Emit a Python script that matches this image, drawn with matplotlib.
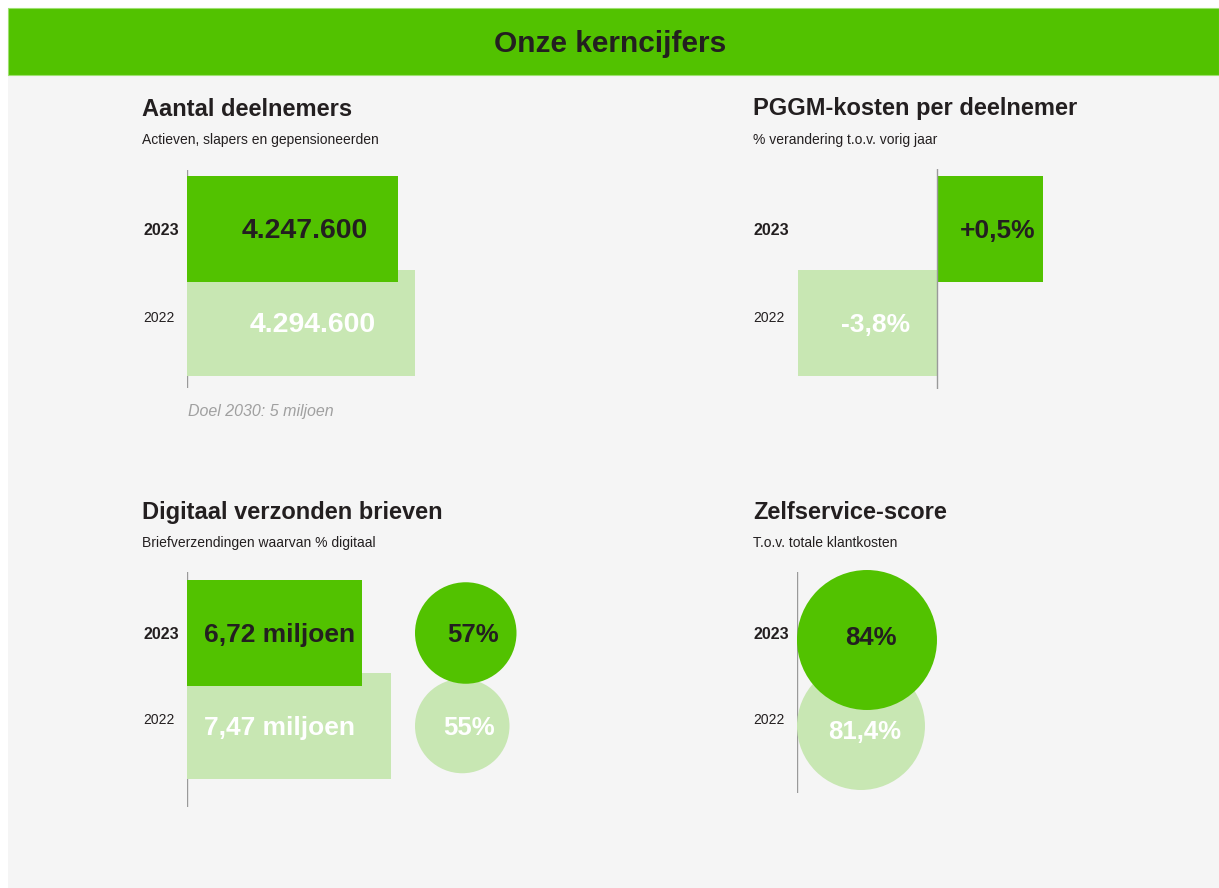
import matplotlib.pyplot as plt
from matplotlib.patches import Rectangle, Circle

W, H = 1219, 888

# data (index 0 = 2022, index 1 = 2023)
jaren = ['2022', '2023']
deelnemers = [4294600, 4247600]
deelnemers_labels = ['4.294.600', '4.247.600']
kosten = [-3.8, 0.5]
kosten_labels = ['-3,8%', '+0,5%']
brieven = [7.47, 6.72]  # miljoen
brieven_labels = ['7,47 miljoen', '6,72 miljoen']
digitaal = [55, 57]
digitaal_labels = ['55%', '57%']
zelfservice = [81.4, 84]
zelfservice_labels = ['81,4%', '84%']

GREEN = '#52c200'
LIGHT = '#c8e7b3'
DARK = '#231f20'
BG = '#f5f5f5'
AXIS = '#9a9a9a'
fills = [LIGHT, GREEN]
inks = ['white', DARK]

plt.rcParams['font.family'] = ['Liberation Sans', 'DejaVu Sans']

fig = plt.figure(figsize=(W / 100, H / 100), dpi=100)
fig.patch.set_facecolor('white')

canvas = fig.add_axes([0, 0, 1, 1])
canvas.set_xlim(0, W)
canvas.set_ylim(H, 0)
canvas.axis('off')
canvas.add_patch(Rectangle((8, 8), W - 8, H - 8, fc=BG, ec='none'))
canvas.add_patch(Rectangle((8, 8), W - 8, 67, fc=GREEN, ec='#9ee070', lw=0.8))
canvas.text(610, 44, 'Onze kerncijfers', ha='center', va='center',
            fontsize=21.5, fontweight='bold', color=DARK)


def box(left, top, right, bottom):
    ax = fig.add_axes([left / W, 1 - bottom / H, (right - left) / W, (bottom - top) / H])
    ax.patch.set_alpha(0)
    ax.axis('off')
    return ax


def cat_ylim(ax, top, bottom, c23, c22):
    # 2023 (y=1) sits at pixel row c23, 2022 (y=0) at c22
    unit = c22 - c23
    ax.set_ylim(-(bottom - c22) / unit, 1 + (c23 - top) / unit)
    return unit


def heading(x, y, title, sub):
    canvas.text(x, y, title, ha='left', va='center', fontsize=17,
                fontweight='bold', color=DARK)
    canvas.text(x, y + 31, sub, ha='left', va='center', fontsize=10, color=DARK)


def years(x, y23, y22):
    canvas.text(x, y23, jaren[1], ha='left', va='center', fontsize=11.5,
                fontweight='bold', color=DARK)
    canvas.text(x, y22, jaren[0], ha='left', va='center', fontsize=10, color=DARK)


def mid_x(ax, a, b, shift):
    xa = ax.transData.transform((a, 0))[0]
    xb = ax.transData.transform((b, 0))[0]
    return ax.transData.inverted().transform(((xa + xb) / 2 + shift, 0))[0]


# --- Aantal deelnemers ---
heading(142, 109, 'Aantal deelnemers', 'Actieven, slapers en gepensioneerden')
years(143, 230, 318)
ax = box(187, 170, 600, 388)
unit = cat_ylim(ax, 170, 388, 229, 323)
x0 = 3.664e6
ax.set_xlim(x0, 4.806e6)
ax.axvline(x0, color=AXIS, lw=1)
for i in range(2):
    ax.barh(i, deelnemers[i] - x0, left=x0, height=106 / unit, color=fills[i], zorder=2 + i)
    ax.text(mid_x(ax, x0, deelnemers[i], 12), i - 2 / unit, deelnemers_labels[i],
            ha='center', va='center', fontsize=20.5, fontweight='bold',
            color=inks[i], zorder=5)
canvas.text(188, 411, 'Doel 2030: 5 miljoen', ha='left', va='center', fontsize=11.5,
            style='italic', color='#a0a0a0')

# --- PGGM-kosten per deelnemer ---
heading(753, 109, 'PGGM-kosten per deelnemer', '% verandering t.o.v. vorig jaar')
years(753, 230, 318)
ax = box(760, 169, 1120, 389)
unit = cat_ylim(ax, 169, 389, 229, 323)
ax.set_xscale('symlog', linthresh=0.01)
ax.set_xlim(-38.2, 55.1)
ax.axvline(0, color=AXIS, lw=1, zorder=4)
for i in range(2):
    ax.barh(i, kosten[i], height=106 / unit, color=fills[i], zorder=2 + i)
    ax.text(mid_x(ax, 0, kosten[i], 8), i - 2 / unit, kosten_labels[i], ha='center',
            va='center', fontsize=19, fontweight='bold', color=inks[i], zorder=5)

# --- Digitaal verzonden brieven ---
heading(142, 512, 'Digitaal verzonden brieven', 'Briefverzendingen waarvan % digitaal')
years(143, 634, 720)
ax = box(187, 572, 400, 807)
unit = cat_ylim(ax, 572, 807, 633, 726)
x0 = 2.194
ax.set_xlim(x0, 7.708)
ax.axvline(x0, color=AXIS, lw=1)
for i in range(2):
    ax.barh(i, brieven[i] - x0, left=x0, height=106 / unit, color=fills[i], zorder=2 + i)
    ax.annotate(brieven_labels[i], xy=(x0, i - 2 / unit), xytext=(17 * 0.72, 0),
                textcoords='offset points', ha='left', va='center', fontsize=19,
                fontweight='bold', color=inks[i], zorder=5)

ax = box(400, 572, 540, 807)
unit = cat_ylim(ax, 572, 807, 633, 726)
ax.set_xlim(0, 140 / unit)
for i in range(2):
    r = (digitaal[i] - 28) * 1.75 / unit
    cx = 15 / unit + r
    ax.add_patch(Circle((cx, i), r, fc=fills[i], ec='none', zorder=2 + i, clip_on=False))
    ax.text(cx + 7 / unit, i - 2 / unit, digitaal_labels[i], ha='center', va='center',
            fontsize=18.5, fontweight='bold', color=inks[i], zorder=5)

# --- Zelfservice-score ---
heading(753, 512, 'Zelfservice-score', 'T.o.v. totale klantkosten')
years(753, 634, 720)
ax = box(797, 572, 960, 793)
unit = cat_ylim(ax, 572, 793, 640, 726)
ax.set_xlim(0, 163 / unit)
ax.axvline(0, color=AXIS, lw=1, zorder=1)
for i in range(2):
    r = (zelfservice[i] - 53.7) * 2.31 / unit
    ax.add_patch(Circle((r, i), r, fc=fills[i], ec='none', zorder=2 + i, clip_on=False))
    ax.text(r + 4 / unit, i - (6 - 8 * i) / unit, zelfservice_labels[i], ha='center',
            va='center', fontsize=18.5, fontweight='bold', color=inks[i], zorder=5)

fig.savefig('out.png', dpi=100, facecolor=fig.get_facecolor())
